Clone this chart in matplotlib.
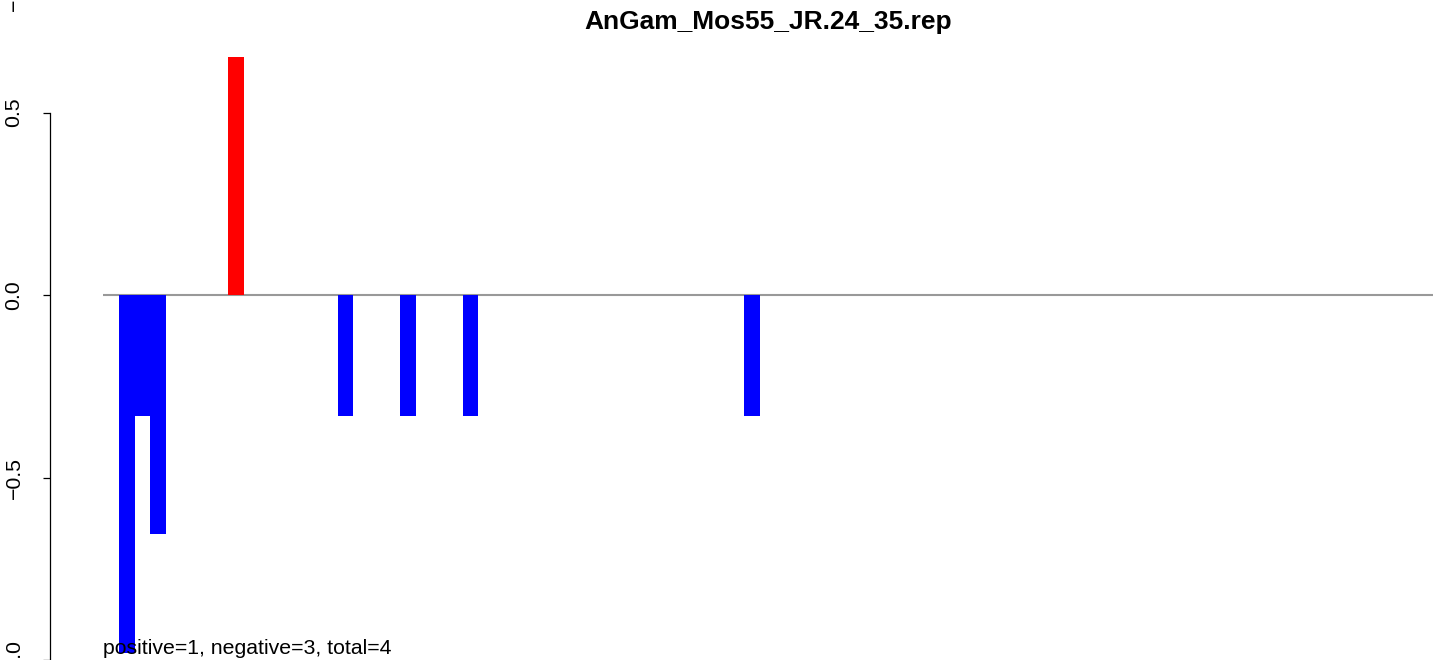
import matplotlib
matplotlib.use("Agg")
import matplotlib.pyplot as plt

plt.rcParams['font.family'] = ['Liberation Sans', 'DejaVu Sans']

# Data
bar_index = [0, 1, 2, 7, 14, 18, 22, 40]
bar_values = [-0.98, -0.33, -0.655, 0.652, -0.33, -0.33, -0.33, -0.33]
y_ticks = [-1.0, -0.5, 0.0, 0.5]
y_tick_labels = ["\u22121.0", "\u22120.5", "0.0", "0.5"]
title = "AnGam_Mos55_JR.24_35.rep"
summary = "positive=1, negative=3, total=4"

W, H = 1433, 660
fig = plt.figure(figsize=(W / 100, H / 100), dpi=100)
ax = fig.add_axes([103 / W, 0, (1433 - 103) / W, 1])
ax.patch.set_alpha(0)

ax.set_xlim(-1.024, 84.07)
ax.set_ylim(-(660 - 296) / 366, 296 / 366)

ax.axhline(0, color="#999999", lw=1.5, zorder=1)
colors = ["red" if v > 0 else "blue" for v in bar_values]
ax.bar(bar_index, bar_values, width=1, align="edge", color=colors,
       edgecolor="none", linewidth=0, zorder=2)

for s in ["top", "right", "bottom"]:
    ax.spines[s].set_visible(False)
ax.spines["left"].set_position(("outward", 53 * 0.72))
ax.spines["left"].set_bounds(-1.0, 0.5)
ax.spines["left"].set_linewidth(0.9)
ax.set_xticks([])
ax.set_yticks(y_ticks)
ax.set_yticklabels(y_tick_labels, rotation=90, va="center", ha="right")
ax.tick_params(axis="y", length=5, width=0.9, pad=14, labelsize=15.3)

ax.set_title(title, fontsize=19, fontweight="bold", pad=0, y=(660 - 22) / 660,
             va="center")

fig.text(103 / W, 1 - 648 / H, summary, fontsize=15.3, ha="left", va="center")

# partial label from panel above (only its minus sign visible)
fig.text(14 / W, 1 - 11 / H, "\u22121.0", fontsize=15.3, rotation=90,
         ha="center", va="bottom")

fig.savefig("out.png", dpi=100)
